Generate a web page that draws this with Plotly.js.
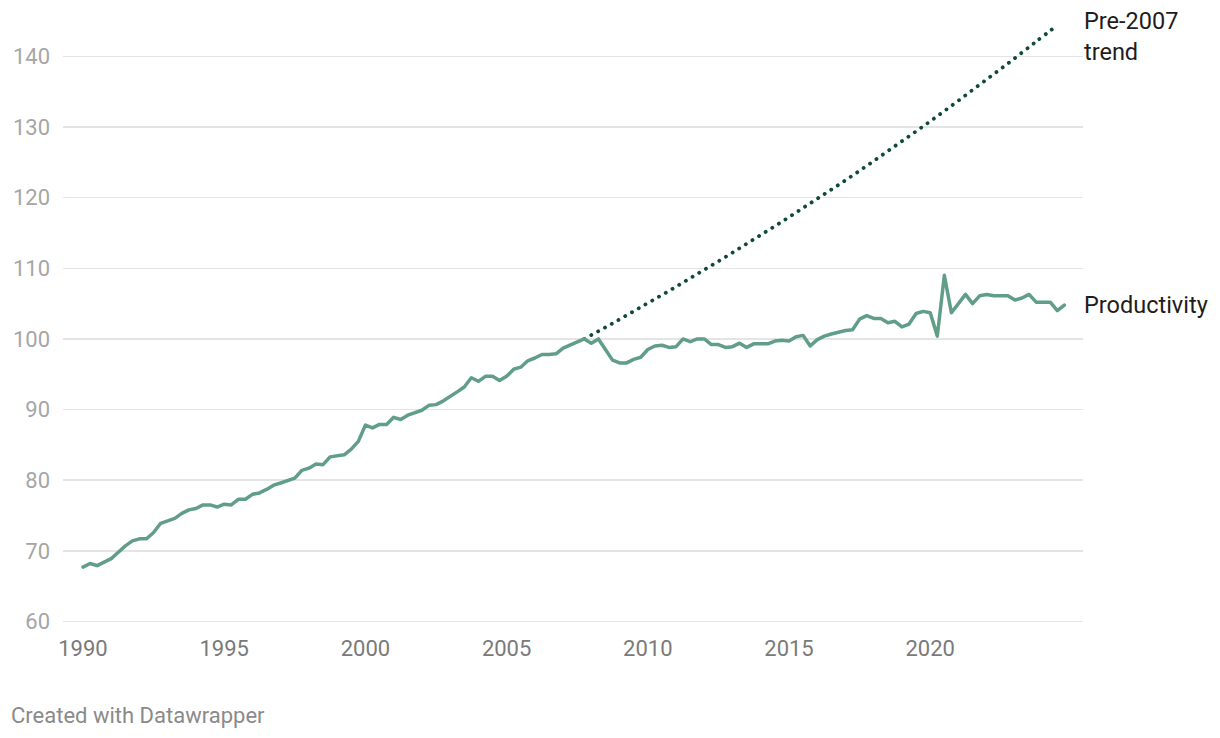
<!DOCTYPE html>
<html>
<head>
<meta charset="utf-8">
<script src="https://cdn.plot.ly/plotly-3.0.1.min.js"></script>
<style>
  html, body { margin: 0; padding: 0; background: #ffffff; }
  #chart { width: 1220px; height: 738px; }
  #chart .js-line { stroke-linecap: round; stroke-linejoin: round; }
</style>
</head>
<body>
<div id="chart"></div>
<script>
// Quarterly series, first quarter = 1990 Q1
const startYear = 1990;
const productivity = [
  67.7, 68.2, 67.9, 68.4, 68.9, 69.8, 70.7, 71.4, 71.7, 71.7,
  72.6, 73.9, 74.2, 74.6, 75.3, 75.8, 76.0, 76.5, 76.5, 76.2,
  76.6, 76.5, 77.3, 77.3, 78.0, 78.2, 78.7, 79.3, 79.6, 80.0,
  80.3, 81.4, 81.7, 82.3, 82.2, 83.3, 83.4, 83.6, 84.4, 85.5,
  87.8, 87.4, 87.9, 87.9, 88.9, 88.6, 89.2, 89.5, 89.9, 90.6,
  90.7, 91.2, 91.8, 92.5, 93.2, 94.5, 94.0, 94.7, 94.7, 94.1,
  94.7, 95.7, 96.0, 96.9, 97.3, 97.8, 97.8, 97.9, 98.7, 99.1,
  99.6, 100.0, 99.4, 100.0, 98.5, 97.0, 96.6, 96.6, 97.1, 97.4,
  98.5, 99.0, 99.1, 98.8, 98.9, 100.0, 99.6, 100.0, 100.0, 99.2,
  99.2, 98.8, 98.9, 99.4, 98.8, 99.3, 99.3, 99.3, 99.7, 99.8,
  99.7, 100.3, 100.5, 99.0, 99.9, 100.4, 100.7, 101.0, 101.2, 101.3,
  102.8, 103.3, 102.9, 102.9, 102.3, 102.5, 101.7, 102.1, 103.6, 103.9,
  103.7, 100.4, 109.0, 103.7, 105.0, 106.3, 105.0, 106.1, 106.3, 106.1,
  106.1, 106.1, 105.5, 105.8, 106.3, 105.2, 105.2, 105.2, 104.0, 104.8
];
const trendYears = [2007.75, 2008.75, 2009.75, 2010.75, 2011.75, 2012.75, 2013.75, 2014.75, 2015.75,
                    2016.75, 2017.75, 2018.75, 2019.75, 2020.75, 2021.75, 2022.75, 2023.75, 2024.5];
const trendValues = [100.0, 102.2, 104.5, 106.8, 109.2, 111.6, 114.1, 116.6, 119.2,
                     121.8, 124.5, 127.3, 130.1, 133.0, 136.0, 139.0, 142.1, 144.4];
const xTickVals = [1990, 1995, 2000, 2005, 2010, 2015, 2020];
const xTickText = ["1990", "1995", "2000", "2005", "2010", "2015", "2020"];
const yTickVals = [60, 70, 80, 90, 100, 110, 120, 130, 140];
const seriesLabels = ["Productivity", "Pre-2007<br>trend"];
const footerText = "Created with Datawrapper";

const prodX = productivity.map((_, i) => startYear + i / 4);

const traces = [
  {
    x: trendYears, y: trendValues, type: 'scatter', mode: 'lines',
    line: { color: '#0f4a37', width: 3.8, dash: '0.1px,7.7px', shape: 'spline' },
    hoverinfo: 'skip'
  },
  {
    x: prodX, y: productivity, type: 'scatter', mode: 'lines',
    line: { color: '#609e87', width: 3.5 },
    hoverinfo: 'skip'
  }
];

const font = "Roboto, 'Noto Sans', sans-serif";

const layout = {
  width: 1220, height: 738,
  margin: { l: 63, r: 137, t: 14, b: 113, pad: 0 },
  paper_bgcolor: '#ffffff', plot_bgcolor: '#ffffff',
  showlegend: false,
  font: { family: font },
  xaxis: {
    range: [1989.292, 2025.41],
    tickvals: xTickVals, ticktext: xTickText,
    showgrid: false, zeroline: false, showline: false,
    ticks: '', ticklabelstandoff: 8,
    tickfont: { family: font, size: 22, color: '#7a7a7a' },
    fixedrange: true
  },
  yaxis: {
    range: [59.5, 146],
    tickvals: yTickVals,
    showgrid: true, gridcolor: '#e4e4e4', gridwidth: 1.5,
    zeroline: false, showline: false,
    ticks: '', ticklabelstandoff: 12,
    tickfont: { family: font, size: 22, color: '#a6a6a6' },
    fixedrange: true
  },
  annotations: [
    {
      xref: 'paper', yref: 'y', x: 1, y: productivity[productivity.length - 1],
      xanchor: 'left', yanchor: 'middle', xshift: -1, yshift: 0,
      text: seriesLabels[0], showarrow: false, align: 'left',
      font: { family: font, size: 23.5, color: '#1d1d1d' }
    },
    {
      xref: 'paper', yref: 'y', x: 1, y: trendValues[trendValues.length - 1],
      xanchor: 'left', yanchor: 'middle', xshift: -1, yshift: -11,
      text: seriesLabels[1], showarrow: false, align: 'left',
      font: { family: font, size: 23.5, color: '#1d1d1d' }
    },
    {
      xref: 'paper', yref: 'paper', x: 0, y: 0,
      xanchor: 'left', yanchor: 'middle', xshift: -54, yshift: -90,
      text: footerText, showarrow: false, align: 'left',
      font: { family: font, size: 22, color: '#8a8a8a' }
    }
  ]
};

Plotly.newPlot('chart', traces, layout, { staticPlot: true, displayModeBar: false });
</script>
</body>
</html>
